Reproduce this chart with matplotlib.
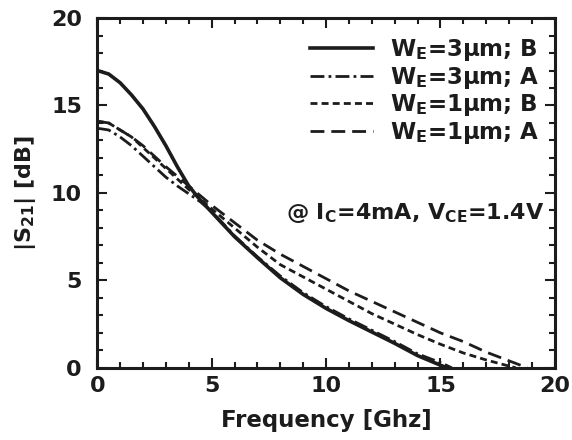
#!/usr/bin/env python3
"""|S21| vs frequency for two emitter widths and two layouts."""

import numpy as np
import matplotlib
matplotlib.use('Agg')
import matplotlib.pyplot as plt
from matplotlib.ticker import MultipleLocator

# data (GHz, dB)
f_3b = [0, 0.5, 1, 1.5, 2, 2.5, 3, 3.5, 4, 4.5, 5, 6, 7, 8, 9, 10, 11, 12, 13, 14, 15, 15.3]
s_3b = [17.0, 16.8, 16.3, 15.6, 14.8, 13.8, 12.7, 11.5, 10.4, 9.6, 8.9, 7.5, 6.3, 5.15, 4.2, 3.4, 2.7, 2.05, 1.4, 0.7, 0.15, 0.0]

f_3a = [0, 0.5, 1, 1.5, 2, 2.5, 3, 3.5, 4, 4.5, 5, 6, 7, 8, 9, 10, 11, 12, 13, 14, 15, 15.5]
s_3a = [13.7, 13.6, 13.2, 12.7, 12.1, 11.5, 10.9, 10.4, 9.95, 9.5, 8.95, 7.55, 6.35, 5.25, 4.3, 3.5, 2.8, 2.15, 1.5, 0.8, 0.3, 0.0]

f_1b = [0, 0.5, 1, 1.5, 2, 3, 4, 5, 6, 7, 8, 9, 10, 11, 12, 13, 14, 15, 16, 17, 18, 18.3]
s_1b = [14.1, 14.0, 13.6, 13.2, 12.6, 11.4, 10.2, 9.1, 8.0, 6.9, 5.9, 5.2, 4.5, 3.8, 3.1, 2.5, 1.9, 1.35, 0.85, 0.45, 0.1, 0.0]

f_1a = [0, 0.5, 1, 1.5, 2, 3, 4, 5, 6, 7, 8, 9, 10, 11, 12, 13, 14, 15, 16, 17, 18, 18.8]
s_1a = [14.1, 14.0, 13.6, 13.2, 12.7, 11.5, 10.4, 9.3, 8.3, 7.3, 6.5, 5.8, 5.1, 4.4, 3.8, 3.2, 2.6, 2.0, 1.5, 0.9, 0.4, 0.0]

labels = [r'W$_{\rm E}$=3μm; B', r'W$_{\rm E}$=3μm; A',
          r'W$_{\rm E}$=1μm; B', r'W$_{\rm E}$=1μm; A']

plt.rcParams['font.family'] = ['DejaVu Sans']
plt.rcParams['font.weight'] = 'bold'
plt.rcParams['mathtext.fontset'] = 'custom'
plt.rcParams['mathtext.rm'] = 'DejaVu Sans:bold'
plt.rcParams['mathtext.it'] = 'DejaVu Sans:bold'
plt.rcParams['mathtext.bf'] = 'DejaVu Sans:bold'

ink = '#1c1c1c'
fig = plt.figure(figsize=(5.72, 4.40), dpi=100)
ax = fig.add_axes([0.170, 0.164, 0.800, 0.795])

ax.plot(f_3b, s_3b, color=ink, lw=2.6, ls='-', label=labels[0])
ax.plot(f_3a, s_3a, color=ink, lw=2.0, ls=(0, (5, 1.5, 1, 1.5)), label=labels[1])
ax.plot(f_1b, s_1b, color=ink, lw=2.0, ls=(0, (2.5, 1.5)), label=labels[2])
ax.plot(f_1a, s_1a, color=ink, lw=2.0, ls=(0, (5, 2.5)), label=labels[3])

ax.set_xlim(0, 20)
ax.set_ylim(0, 20)
ax.xaxis.set_major_locator(MultipleLocator(5))
ax.yaxis.set_major_locator(MultipleLocator(5))
ax.xaxis.set_minor_locator(MultipleLocator(1))
ax.yaxis.set_minor_locator(MultipleLocator(1))
ax.tick_params(which='both', direction='in', top=True, right=True, color=ink, width=1.5)
ax.tick_params(which='major', length=7, labelsize=16, labelcolor=ink)
ax.tick_params(which='minor', length=4)
ax.tick_params(axis='x', which='major', pad=6)
ax.tick_params(axis='y', which='major', pad=11)
for sp in ax.spines.values():
    sp.set_linewidth(2.2)
    sp.set_color(ink)

ax.set_xlabel('Frequency [Ghz]', fontsize=16.5, fontweight='bold', color=ink, labelpad=9)
ax.set_ylabel(r'|S$_{\rm 21}$| [dB]', fontsize=16, fontweight='bold', color=ink, labelpad=9)

leg = ax.legend(loc='upper right', bbox_to_anchor=(0.997, 0.985), frameon=False,
                fontsize=16.5, handlelength=2.75, handletextpad=0.75, labelspacing=0.07,
                borderaxespad=0.2)
for t in leg.get_texts():
    t.set_color(ink)

ax.text(0.978, 0.443, r'@ I$_{\rm C}$=4mA, V$_{\rm CE}$=1.4V', transform=ax.transAxes,
        ha='right', va='center', fontsize=16, fontweight='bold', color=ink)

fig.savefig('out.png', dpi=100)
